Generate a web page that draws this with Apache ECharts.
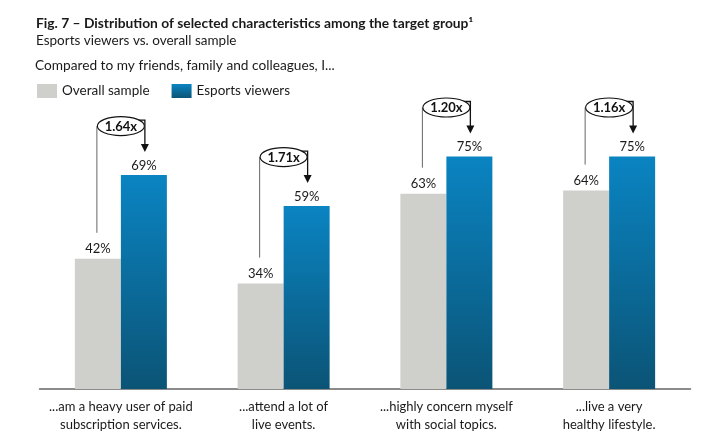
<!DOCTYPE html>
<html><head><meta charset="utf-8">
<script src="https://cdn.jsdelivr.net/npm/echarts@6/dist/echarts.min.js"></script>
<style>html,body{margin:0;padding:0;background:#fff}#c{width:707px;height:444px}</style>
</head><body><div id="c"></div>
<script>
const titleText = 'Fig. 7 – Distribution of selected characteristics among the target group¹';
const subtitleText = 'Esports viewers vs. overall sample';
const questionText = 'Compared to my friends, family and colleagues, I...';
const categories = [
  '...am a heavy user of paid\nsubscription services.',
  '...attend a lot of\nlive events.',
  '...highly concern myself\nwith social topics.',
  '...live a very\nhealthy lifestyle.'
];
const seriesNames = ['Overall sample', 'Esports viewers'];
const overallSample = [42, 34, 63, 64];
const esportsViewers = [69, 59, 75, 75];
const ratioLabels = ['1.64x', '1.71x', '1.20x', '1.16x'];

const FONT = 'Lato, "Open Sans", sans-serif';
const BAR_W = 46;

const chart = echarts.init(document.getElementById('c'), null, {renderer: 'canvas'});
const blueGrad = new echarts.graphic.LinearGradient(0, 0, 0, 1, [
  {offset: 0, color: '#0a84c2'},
  {offset: 1, color: '#0b5476'}
]);

const annData = categories.map((c, i) => [i, overallSample[i], esportsViewers[i]]);

chart.setOption({
  animation: false,
  textStyle: {fontFamily: FONT},
  title: [
    {text: titleText, left: 31, top: 12, textStyle: {fontFamily: FONT, fontSize: 13.8, fontWeight: 'bold', color: '#1a1a1a'}},
    {text: subtitleText, left: 31, top: 29, textStyle: {fontFamily: FONT, fontSize: 13.5, fontWeight: 'normal', color: '#1a1a1a'}},
    {text: questionText, left: 30, top: 54, textStyle: {fontFamily: FONT, fontSize: 13.7, fontWeight: 'normal', color: '#1a1a1a'}}
  ],
  legend: {
    data: seriesNames,
    left: 32, top: 79,
    itemWidth: 20, itemHeight: 14, itemGap: 22,
    icon: 'rect',
    textStyle: {fontFamily: FONT, fontSize: 13.5, color: '#1a1a1a', padding: [0, 0, 0, 0]}
  },
  grid: {left: 39.5, right: 16.5, top: 79, bottom: 55},
  xAxis: {
    type: 'category',
    data: categories,
    axisLine: {lineStyle: {color: '#666', width: 1.5}},
    axisTick: {show: false},
    axisLabel: {fontFamily: FONT, fontSize: 13, lineHeight: 18, color: '#1a1a1a', margin: 9, interval: 0}
  },
  yAxis: {type: 'value', min: 0, max: 100, show: false, splitLine: {show: false}},
  series: [
    {
      name: seriesNames[0], type: 'bar', data: overallSample, barWidth: BAR_W, barGap: '0%',
      itemStyle: {color: '#cfcfcc'},
      label: {show: true, position: 'top', distance: 3, formatter: '{c}%', fontFamily: FONT, fontSize: 13, color: '#1a1a1a'}
    },
    {
      name: seriesNames[1], type: 'bar', data: esportsViewers, barWidth: BAR_W, barGap: '0%',
      itemStyle: {color: blueGrad},
      label: {show: true, position: 'top', distance: 3, formatter: '{c}%', fontFamily: FONT, fontSize: 13, color: '#1a1a1a'}
    },
    {
      type: 'custom',
      silent: true,
      z: 10,
      clip: false,
      encode: {x: 0, y: 2},
      data: annData,
      renderItem: function (params, api) {
        const i = api.value(0);
        const base = api.coord([i, 0]);
        const cx = base[0];
        const gx = cx - BAR_W / 2;
        const bx = cx + BAR_W / 2;
        const gTop = api.coord([i, api.value(1)])[1];
        const bTop = api.coord([i, api.value(2)])[1];
        const cy = bTop - 49;
        const rx = 23.5, ry = 9.5;
        const tip = bTop - 23;
        const ax = bx + 1;
        return {
          type: 'group',
          children: [
            {type: 'polyline', shape: {points: [[gx - 1, gTop - 26], [gx - 1, cy]]},
             style: {stroke: '#666', lineWidth: 1, fill: null}},
            {type: 'polyline', shape: {points: [[cx + 17, cy - 6], [ax, cy - 6], [ax, tip - 7]]},
             style: {stroke: '#111', lineWidth: 1.3, fill: null}},
            {type: 'ellipse', shape: {cx: cx, cy: cy, rx: rx, ry: ry},
             style: {stroke: '#111', lineWidth: 1.1, fill: '#fff'}},
            {type: 'text', x: cx, y: cy + 0.5,
             style: {text: ratioLabels[i], fontFamily: FONT, fontSize: 13, fontWeight: 'bold', fill: '#111', align: 'center', verticalAlign: 'middle'}},
            {type: 'polygon', shape: {points: [[ax - 4, tip - 8], [ax + 4, tip - 8], [ax, tip]]},
             style: {fill: '#111'}}
          ]
        };
      }
    }
  ]
});
</script></body></html>
